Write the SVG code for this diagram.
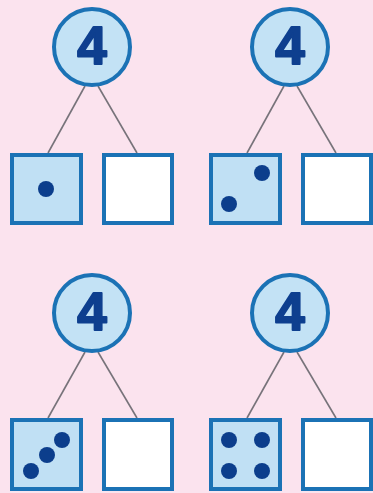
<svg xmlns="http://www.w3.org/2000/svg" width="373" height="493" viewBox="0 0 373 493">
<style>
.bg{fill:#fbe3ee}
.c{fill:#c3e2f5;stroke:#1b72b5;stroke-width:4}
.n{font-family:"Liberation Sans",Arial,sans-serif;font-weight:bold;font-size:53px;fill:#0e3f8f;stroke:#0e3f8f;stroke-width:2;stroke-linejoin:round;text-anchor:middle}
.l{stroke:#77737a;stroke-width:1.6;fill:none}
.bf{fill:#c0e0f4;stroke:#1b72b5;stroke-width:4}
.be{fill:#ffffff;stroke:#1b72b5;stroke-width:4}
.d{fill:#0c3e8c}
</style>
<rect class="bg" x="0" y="0" width="373" height="493"/>
<g id="connectors">
<line class="l" x1="85" y1="86" x2="48" y2="153"/>
<line class="l" x1="98" y1="86" x2="137" y2="153"/>
<line class="l" x1="284" y1="86" x2="247" y2="153"/>
<line class="l" x1="297" y1="86" x2="336" y2="153"/>
<line class="l" x1="85" y1="352" x2="48" y2="418"/>
<line class="l" x1="98" y1="352" x2="137" y2="418"/>
<line class="l" x1="284" y1="352" x2="247" y2="418"/>
<line class="l" x1="297" y1="352" x2="336" y2="418"/>
</g>
<g id="top1"><circle class="c" cx="92" cy="47" r="38"/><text class="n" x="92" y="64">4</text></g>
<g id="top2"><circle class="c" cx="290" cy="47" r="38"/><text class="n" x="290" y="64">4</text></g>
<g id="top3"><circle class="c" cx="92" cy="313" r="38"/><text class="n" x="92" y="330">4</text></g>
<g id="top4"><circle class="c" cx="290" cy="313" r="38"/><text class="n" x="290" y="330">4</text></g>
<g id="box1a"><rect class="bf" x="12" y="155" width="69" height="68"/><circle class="d" cx="46" cy="189" r="8"/></g>
<g id="box1b"><rect class="be" x="104" y="155" width="68" height="68"/></g>
<g id="box2a"><rect class="bf" x="211" y="155" width="69" height="68"/><circle class="d" cx="262" cy="173" r="8"/><circle class="d" cx="229" cy="204" r="8"/></g>
<g id="box2b"><rect class="be" x="303" y="155" width="68" height="68"/></g>
<g id="box3a"><rect class="bf" x="12" y="420" width="69" height="69"/><circle class="d" cx="62" cy="440" r="8"/><circle class="d" cx="47" cy="455" r="8"/><circle class="d" cx="31" cy="471" r="8"/></g>
<g id="box3b"><rect class="be" x="104" y="420" width="68" height="69"/></g>
<g id="box4a"><rect class="bf" x="211" y="420" width="69" height="69"/><circle class="d" cx="229" cy="440" r="8"/><circle class="d" cx="262" cy="440" r="8"/><circle class="d" cx="229" cy="471" r="8"/><circle class="d" cx="262" cy="471" r="8"/></g>
<g id="box4b"><rect class="be" x="303" y="420" width="68" height="69"/></g>
</svg>
